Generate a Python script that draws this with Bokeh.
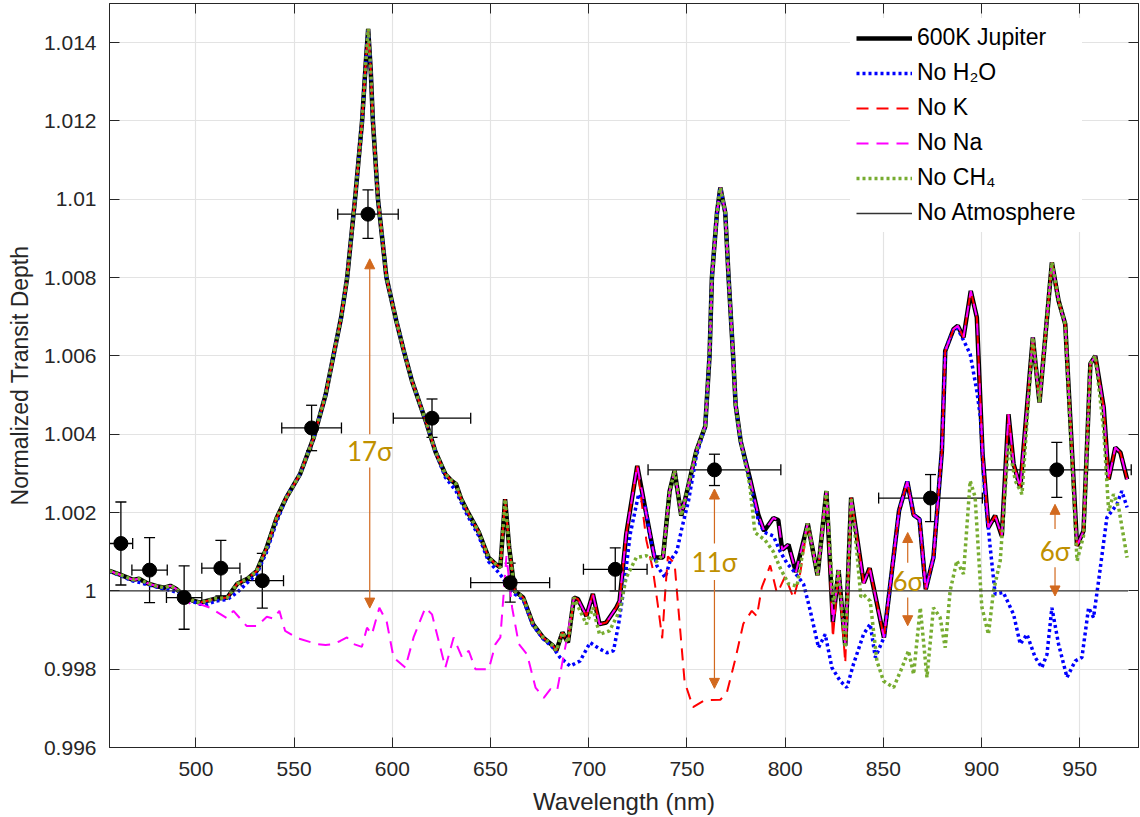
from bokeh.plotting import figure
from bokeh.models import (ColumnDataSource, Whisker, Arrow, NormalHead, LinearAxis,
                          Range1d, FixedTicker, Legend, LegendItem, TeeHead,
                          CustomJSTickFormatter)
from bokeh.core.properties import value
from bokeh.embed import file_html
from bokeh.resources import INLINE

# ---------------- data ----------------
wl = [456, 462, 468, 471, 475, 480, 484, 487, 490, 494, 498, 502, 506, 510, 516, 521, 526, 531,
      536, 541, 546, 553, 560, 566, 570, 574, 577, 581, 584.6, 586.5, 587.7, 589, 590.1, 592.7,
      597, 602, 606, 610, 617, 622, 627, 630, 632.4, 635, 638, 644, 649, 652.7, 655, 657.4,
      659.5, 662.3, 666.6, 671.6, 676.7, 681.8, 683.5, 686.6, 689.4, 692.5, 694.5, 698.8,
      702.1, 705.5, 708.9, 714, 715.7, 719.1, 724.7, 729.3, 733.5, 737.8, 741.2, 743.7, 747.1,
      750.5, 754.8, 759.3, 761.5, 762.7, 765.3, 767, 769.5, 771.2, 773.5, 774.8, 777.4, 782,
      786.3, 789.3, 794, 796.5, 798.5, 801.7, 805.5, 811.5, 816.5, 821, 824.3, 827.2, 830.6,
      833.6, 840, 843, 850.3, 858, 862.2, 865.4, 868.4, 871.6, 875.5, 879.8, 881.5, 885.7,
      887.9, 890.8, 894.5, 897.6, 900.5, 903.5, 906.9, 910.3, 913.7, 916.3, 919.7, 926.1,
      929.5, 935.8, 939.2, 942.6, 948.6, 951.9, 955.4, 957.9, 962.2, 964.7, 968.1, 970.7, 974.1]
jupiter = [1.00051, 1.00040, 1.00028, 1.00031, 1.00020, 1.00012, 1.00008, 1.00013, 1.00005,
           0.99987, 0.99976, 0.99970, 0.99975, 0.99980, 0.99983, 1.00018, 1.00030, 1.00051,
           1.00110, 1.00185, 1.00238, 1.00298, 1.00392, 1.00500, 1.00600, 1.00700, 1.00800,
           1.01000, 1.01200, 1.01350, 1.01435, 1.01330, 1.01200, 1.01000, 1.00800, 1.00690,
           1.00610, 1.00536, 1.00434, 1.00355, 1.00298, 1.00282, 1.00273, 1.00235, 1.00205,
           1.00150, 1.00085, 1.00068, 1.00060, 1.00234, 1.00110, 1.00000, 0.99983, 0.99915,
           0.99881, 0.99860, 0.99847, 0.99894, 0.99868, 0.99983, 0.99979, 0.99936, 0.99992,
           0.99915, 0.99919, 0.99957, 0.99974, 1.00145, 1.00319, 1.00196, 1.00085, 1.00085,
           1.00255, 1.00307, 1.00192, 1.00264, 1.00358, 1.00420, 1.00600, 1.00800, 1.00966,
           1.01030, 1.00966, 1.00800, 1.00600, 1.00474, 1.00381, 1.00288, 1.00195, 1.00153,
           1.00186, 1.00181, 1.00105, 1.00118, 1.00048, 1.00172, 1.00040, 1.00255, 0.99920,
           1.00053, 0.99860, 1.00238, 1.00020, 1.00058, 0.99881, 1.00205, 1.00279, 1.00194,
           1.00183, 1.00004, 1.00085, 1.00358, 1.00613, 1.00668, 1.00677, 1.00647, 1.00766,
           1.00698, 1.00350, 1.00162, 1.00192, 1.00140, 1.00451, 1.00324, 1.00264, 1.00647,
           1.00481, 1.00839, 1.00741, 1.00681, 1.00115, 1.00153, 1.00580, 1.00600, 1.00468,
           1.00285, 1.00366, 1.00353, 1.00285]

# No H2O: stretches where it departs from the full model
no_h2o_wl_a = [456, 462, 468, 471, 475, 480, 484, 487, 490, 494, 498, 502, 506, 510, 516, 521,
               526, 531, 536, 541]
no_h2o_a = [1.00050, 1.00038, 1.00025, 1.00022, 1.00016, 1.00010, 1.00004, 1.00002, 0.99996,
            0.99984, 0.99973, 0.99966, 0.99966, 0.99974, 0.99978, 0.99996, 1.00020, 1.00043,
            1.00100, 1.00175]
no_h2o_wl_b = [627, 632.4, 638, 644, 649, 652.7, 656, 659.5, 662.3, 666.6, 671.6, 676.7, 681.8,
               685.4, 690.5, 695.6, 700.7, 705.8, 709.2, 712.6, 715.2, 717.7, 721.1, 725.4,
               728.8, 731.3, 734.7, 738.9, 741.5, 744.9, 747.5, 750.8, 754.8]
no_h2o_b = [1.00290, 1.00255, 1.00195, 1.00140, 1.00075, 1.00055, 1.00035, 1.00005, 0.99992,
            0.99978, 0.99912, 0.99878, 0.99855, 0.99830, 0.99808, 0.99821, 0.99868, 0.99851,
            0.99842, 0.99847, 0.99915, 1.00000, 1.00145, 1.00247, 1.00213, 1.00136, 1.00064,
            1.00034, 1.00077, 1.00102, 1.00162, 1.00230, 1.00345]
no_h2o_wl_c = [782, 786.3, 789.3, 794, 797.5, 801, 804.3, 809.4, 812.8, 817, 820.4, 823.8, 828,
               831.4, 834.8, 839.9, 843.3, 845.9, 850.3]
no_h2o_c = [1.00280, 1.00180, 1.00150, 1.00140, 1.00100, 1.00070, 1.00051, 1.00017, 0.99949,
            0.99855, 0.99889, 0.99804, 0.99770, 0.99753, 0.99813, 0.99889, 0.99915, 0.99830,
            0.99881]
no_h2o_wl_d = [887.9, 890.8, 894.2, 897.6, 899.5, 901.5, 904.4, 906.9, 911.1, 916.3, 919.7,
               923.1, 927.3, 930.7, 933.3, 935.8, 939.2, 943.5, 947.7, 951.1, 954.5, 957,
               959.6, 963.8, 968.9, 971.4, 974.1]
no_h2o_d = [1.00670, 1.00640, 1.00605, 1.00510, 1.00440, 1.00260, 1.00111, 0.99992, 0.99996,
            0.99940, 0.99864, 0.99889, 0.99830, 0.99804, 0.99838, 0.99957, 0.99864, 0.99779,
            0.99821, 0.99830, 0.99957, 0.99932, 1.00026, 1.00187, 1.00221, 1.00255, 1.00213]

# No K
no_k_wl_a = [724.7, 729.3, 732.6, 735.2, 737.4, 739.1, 740.3, 743.7, 746.3, 748.8, 753.1, 759,
             767, 770.3, 774.5, 778.7, 783, 785.6, 788.1, 792.4, 795.8, 797.5, 800, 804.3,
             807.7, 811.5]
no_k_a = [1.00319, 1.00130, 1.00056, 0.99963, 0.99879, 1.00009, 1.00088, 1.00070, 0.99916,
          0.99768, 0.99703, 0.99721, 0.99722, 0.99740, 0.99823, 0.99916, 0.99949, 0.99935,
          1.00009, 1.00065, 0.99995, 1.00010, 1.00037, 0.99981, 1.00046, 1.00172]
no_k_wl_b = [821, 824.3, 827.2, 830.6, 833.6]
no_k_b = [1.00255, 0.99880, 1.00053, 0.99815, 1.00238]

# No Na
no_na_wl = [494, 497.1, 502.2, 507.3, 515.8, 519.1, 525.9, 531, 536.1, 539.5, 542.5, 545.4,
            549.7, 553.1, 561.6, 566, 570.1, 573.5, 576.9, 580.3, 584.5, 587.1, 589.6, 593.4,
            597.2, 600.6, 606.6, 610.8, 616.8, 620.2, 627, 631.2, 635.5, 638.9, 642.3, 649.1,
            652.5, 655, 658.1, 661, 664.4, 668.6, 672.9, 677.1, 680.5, 683.9, 686.4, 689,
            691.5, 692.5]
no_na = [0.99987, 0.99966, 0.99966, 0.99957, 0.99930, 0.99949, 0.99910, 0.99910, 0.99934,
         0.99929, 0.99949, 0.99898, 0.99885, 0.99877, 0.99864, 0.99862, 0.99864, 0.99872,
         0.99881, 0.99864, 0.99857, 0.99906, 0.99889, 0.99957, 0.99920, 0.99830, 0.99804,
         0.99881, 0.99957, 0.99940, 0.99804, 0.99881, 0.99830, 0.99847, 0.99800, 0.99800,
         0.99864, 0.99881, 1.00089, 0.99957, 0.99864, 0.99838, 0.99753, 0.99727, 0.99749,
         0.99745, 0.99813, 0.99881, 0.99957, 0.99983]

# No CH4
no_ch4_wl_a = [692.5, 694, 698.8, 702.1, 705.5, 710.6, 715.7, 719.1, 724.2, 729.3, 734.4, 738,
               741.2]
no_ch4_a = [0.99983, 0.99966, 0.99915, 0.99957, 0.99889, 0.99898, 0.99949, 1.00034, 1.00085,
            1.00090, 1.00074, 1.00093, 1.00255]
no_ch4_wl_b = [782, 784.6, 789.7, 794, 797.5, 801.7, 806, 811.5]
no_ch4_b = [1.00270, 1.00149, 1.00130, 1.00100, 1.00058, 1.00018, 1.00012, 1.00172]
no_ch4_wl_c = [821, 824.6, 827.2, 830.6, 833.6, 836.5, 838.5, 840, 843.3, 846.7, 850.1, 855.2,
               859.5, 862.8, 865.4, 868.8, 872.2, 875.5, 878.9, 881.5, 884, 887.4, 890.8,
               894.2, 896.7, 900.1, 903.5, 906.1, 909.5, 913.7, 917.2, 920.6, 926.1]
no_ch4_c = [1.00255, 0.99966, 1.00053, 0.99855, 1.00238, 1.00100, 0.99985, 0.99990, 0.99974,
            0.99821, 0.99770, 0.99753, 0.99804, 0.99847, 0.99787, 0.99957, 0.99779, 0.99957,
            0.99932, 0.99855, 1.00000, 1.00077, 1.00043, 1.00281, 1.00240, 0.99960, 0.99889,
            1.00000, 1.00077, 1.00375, 1.00281, 1.00247, 1.00647]
no_ch4_wl_d = [942.6, 948.6, 951.9, 955.4, 957.9, 962.2, 964.7, 967.2, 969.8, 974.1]
no_ch4_d = [1.00681, 1.00077, 1.00140, 1.00580, 1.00600, 1.00409, 1.00204, 1.00247, 1.00213,
            1.00085]

# No atmosphere (flat)
no_atm_wl = [456, 974.6]
no_atm = [1.0, 1.0]

# Measured points with error bars
pts_wl = [461.8, 476.4, 494.0, 512.7, 533.8, 558.9, 587.6, 620.2, 660.0, 713.5, 764.0, 874.0, 938.3]
pts_depth = [1.00121, 1.00053, 0.99983, 1.00058, 1.00026, 1.00416, 1.00962, 1.00441, 1.00021,
             1.00055, 1.00309, 1.00237, 1.00309]
pts_yerr = [0.00106, 0.00083, 0.00081, 0.00071, 0.00070, 0.00058, 0.00062, 0.00049, 0.00050,
            0.00055, 0.00040, 0.00060, 0.00070]
pts_xerr = [6.0, 9.0, 9.0, 9.7, 10.8, 15.2, 15.4, 19.7, 20.1, 16.2, 33.8, 26.4, 37.9]

# Significance annotations
sig_wl = [588.5, 764.0, 862.4, 937.4]
sig_up_tip = [1.00848, 1.00260, 1.00149, 1.00221]
sig_up_tail = [1.00400, 1.00121, 1.00072, 1.00158]
sig_label_y = [1.00358, 1.00074, 1.00026, 1.00102]
sig_dn_tail = [1.00315, 1.00028, 0.99983, 1.00060]
sig_dn_tip = [0.99956, 0.99751, 0.99911, 0.99987]
sig_text = ["17σ", "11σ", "6σ", "6σ"]

x_ticks = [500, 550, 600, 650, 700, 750, 800, 850, 900, 950]
y_ticks = [0.996, 0.998, 1.0, 1.002, 1.004, 1.006, 1.008, 1.01, 1.012, 1.014]


def splice(bx, by, segments):
    xs, ys = list(bx), list(by)
    for sx, sy in segments:
        keep = [(a, b) for a, b in zip(xs, ys) if a < sx[0] or a > sx[-1]]
        merged = sorted(keep + list(zip(sx, sy)))
        xs = [m[0] for m in merged]
        ys = [m[1] for m in merged]
    return xs, ys


h2o_x, h2o_y = splice(wl, jupiter, [(no_h2o_wl_a, no_h2o_a), (no_h2o_wl_b, no_h2o_b),
                                    (no_h2o_wl_c, no_h2o_c), (no_h2o_wl_d, no_h2o_d)])
k_x, k_y = splice(wl, jupiter, [(no_k_wl_a, no_k_a), (no_k_wl_b, no_k_b)])
na_x, na_y = splice(wl, jupiter, [(no_na_wl, no_na)])
ch4_x, ch4_y = splice(wl, jupiter, [(no_ch4_wl_a, no_ch4_a), (no_ch4_wl_b, no_ch4_b),
                                    (no_ch4_wl_c, no_ch4_c), (no_ch4_wl_d, no_ch4_d)])

# ---------------- figure ----------------
TXT = "#262626"
p = figure(width=1140, height=817, x_range=Range1d(456, 979.9), y_range=Range1d(0.996, 1.015),
           output_backend="svg", toolbar_location=None,
           min_border_left=109, min_border_right=2, min_border_top=3, min_border_bottom=70)
p.background_fill_color = "white"
p.outline_line_color = TXT
p.outline_line_width = 1

for ax in (p.xaxis[0], p.yaxis[0]):
    ax.major_tick_in = 10
    ax.major_tick_out = 0
    ax.minor_tick_in = 0
    ax.minor_tick_out = 0
    ax.axis_line_color = TXT
    ax.major_tick_line_color = TXT
    ax.major_label_text_color = TXT
    ax.major_label_text_font = "Liberation Sans"
    ax.major_label_text_font_size = "21px"
    ax.axis_label_text_font = "Liberation Sans"
    ax.axis_label_text_font_style = "normal"
    ax.axis_label_text_color = TXT

p.xaxis.ticker = FixedTicker(ticks=x_ticks)
p.yaxis.ticker = FixedTicker(ticks=y_ticks)
p.yaxis.formatter = CustomJSTickFormatter(code="return String(Number(tick.toFixed(3)));")
p.xaxis.axis_label = "Wavelength (nm)"
p.yaxis.axis_label = "Normalized Transit Depth"
p.xaxis.axis_label_text_font_size = "24px"
p.yaxis.axis_label_text_font_size = "23px"
p.xaxis.major_label_standoff = 14
p.yaxis.major_label_standoff = 13
p.xaxis.axis_label_standoff = 9
p.yaxis.axis_label_standoff = 8

blank = CustomJSTickFormatter(code="return '';")
top_ax = LinearAxis(ticker=FixedTicker(ticks=x_ticks), formatter=blank, major_tick_in=10,
                    major_tick_out=0, minor_tick_in=0, minor_tick_out=0,
                    major_label_standoff=0, axis_line_color=TXT, major_tick_line_color=TXT)
right_ax = LinearAxis(ticker=FixedTicker(ticks=y_ticks), formatter=blank, major_tick_in=10,
                      major_tick_out=0, minor_tick_in=0, minor_tick_out=0,
                      major_label_standoff=0, axis_line_color=TXT, major_tick_line_color=TXT)
p.add_layout(top_ax, "above")
p.add_layout(right_ax, "right")

p.xgrid.ticker = FixedTicker(ticks=x_ticks)
p.ygrid.ticker = FixedTicker(ticks=y_ticks)
p.xgrid.grid_line_color = "#e3e3e3"
p.ygrid.grid_line_color = "#e3e3e3"
p.xgrid.grid_line_width = 1.2
p.ygrid.grid_line_width = 1.2

r_jup = p.line(wl, jupiter, line_color="black", line_width=4.5)
r_h2o = p.line(h2o_x, h2o_y, line_color="#0000FF", line_width=3.5, line_dash="3 3")
r_k = p.line(k_x, k_y, line_color="#FF0000", line_width=2, line_dash="12 8")
r_na = p.line(na_x, na_y, line_color="#FF00FF", line_width=2, line_dash="12 8")
r_ch4 = p.line(ch4_x, ch4_y, line_color="#77AC30", line_width=3.5, line_dash="3 3")
r_atm = p.line(no_atm_wl, no_atm, line_color="#333333", line_width=1.4)

# data points with error bars
yhi = [d + e for d, e in zip(pts_depth, pts_yerr)]
ylo = [d - e for d, e in zip(pts_depth, pts_yerr)]
xhi = [w + e for w, e in zip(pts_wl, pts_xerr)]
xlo = [w - e for w, e in zip(pts_wl, pts_xerr)]
src = ColumnDataSource(dict(x=pts_wl, y=pts_depth, yhi=yhi, ylo=ylo, xhi=xhi, xlo=xlo))
p.add_layout(Whisker(source=src, base="x", upper="yhi", lower="ylo", dimension="height",
                     line_color="black", line_width=1.3,
                     upper_head=TeeHead(size=11, line_color="black", line_width=1.3),
                     lower_head=TeeHead(size=11, line_color="black", line_width=1.3)))
p.add_layout(Whisker(source=src, base="y", upper="xhi", lower="xlo", dimension="width",
                     line_color="black", line_width=1.3,
                     upper_head=TeeHead(size=11, line_color="black", line_width=1.3),
                     lower_head=TeeHead(size=11, line_color="black", line_width=1.3)))
p.scatter("x", "y", source=src, size=14, fill_color="black", line_color="black")

# significance arrows
ARR = "#D2691E"
sig_src = ColumnDataSource(dict(x=sig_wl, up_tip=sig_up_tip, up_tail=sig_up_tail,
                                dn_tail=sig_dn_tail, dn_tip=sig_dn_tip, ly=sig_label_y,
                                t=sig_text))
for tail, tip in (("up_tail", "up_tip"), ("dn_tail", "dn_tip")):
    p.add_layout(Arrow(source=sig_src, x_start="x", y_start=tail, x_end="x", y_end=tip,
                       line_color=ARR, line_width=1.2,
                       end=NormalHead(size=10, fill_color=ARR, line_color=ARR)))
p.text(x="x", y="ly", text="t", source=sig_src, text_font=value("Lato"),
       text_font_size="26px", text_color="#BF9000", text_align="center",
       text_baseline="middle")

legend = Legend(items=[
    LegendItem(label="600K Jupiter", renderers=[r_jup]),
    LegendItem(label="No H₂O", renderers=[r_h2o]),
    LegendItem(label="No K", renderers=[r_k]),
    LegendItem(label="No Na", renderers=[r_na]),
    LegendItem(label="No CH₄", renderers=[r_ch4]),
    LegendItem(label="No Atmosphere", renderers=[r_atm]),
], location=(741, 515))
legend.glyph_width = 56
legend.glyph_height = 24
legend.label_height = 24
legend.spacing = 8
legend.padding = 6
legend.label_standoff = 5
legend.label_text_font = "Liberation Sans"
legend.label_text_font_size = "23px"
legend.label_text_color = "black"
legend.border_line_alpha = 0
legend.background_fill_color = "white"
legend.background_fill_alpha = 1
p.add_layout(legend)

open("out.html", "w").write(file_html(p, INLINE))
